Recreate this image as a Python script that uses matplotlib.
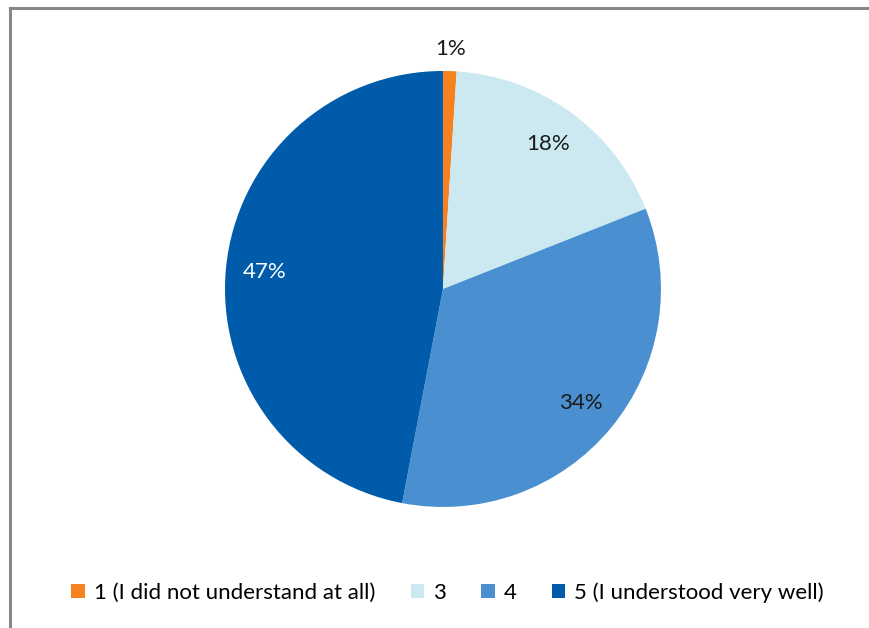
import numpy as np
import matplotlib.pyplot as plt
from matplotlib.lines import Line2D

# survey answers: how well the session was understood
categories = ['1 (I did not understand at all)', '3', '4', '5 (I understood very well)']
shares = [1, 18, 34, 47]
colors = ['#F5821F', '#CCE9F1', '#4A90D0', '#005CAA']
label_colors = ['#1a1a1a', '#1a1a1a', '#1a1a1a', 'white']

plt.rcParams['font.family'] = ['Lato', 'DejaVu Sans']

fig = plt.figure(figsize=(8.69, 6.28), dpi=100)
ax = fig.add_axes([0.2589, 0.1927, 0.5017, 0.6943])

wedges, texts = ax.pie(shares, colors=colors, startangle=90, counterclock=False,
                       wedgeprops=dict(linewidth=0))
ax.set_aspect('equal')
ax.set_xlim(-1, 1)
ax.set_ylim(-1, 1)

# percent labels, the tiny slice sits outside the pie
for w, val, c in zip(wedges, shares, label_colors):
    ang = np.deg2rad((w.theta1 + w.theta2) / 2)
    r = 1.10 if val < 5 else 0.82
    ax.text(r * np.cos(ang), r * np.sin(ang), f'{val}%', ha='center', va='center',
            fontsize=16, color=c, clip_on=False)

leg = fig.legend(wedges, categories, loc='center', bbox_to_anchor=(0.515, 0.057),
                 ncol=4, frameon=False, fontsize=16,
                 handlelength=0.6, handleheight=0.6, handletextpad=0.4, columnspacing=1.6)

# chart area frame (top and left edges only)
fig.add_artist(Line2D([0.0115, 0.0115], [0.0, 0.9873], transform=fig.transFigure,
                      color='#888888', linewidth=2.2))
fig.add_artist(Line2D([0.0115, 1.0], [0.9873, 0.9873], transform=fig.transFigure,
                      color='#888888', linewidth=2.2))

fig.savefig('out.png', dpi=100)
